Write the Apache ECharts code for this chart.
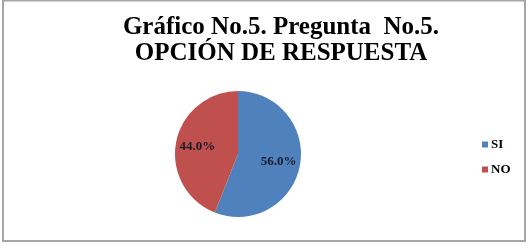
<!DOCTYPE html>
<html>
<head>
<meta charset="utf-8">
<script src="https://cdn.jsdelivr.net/npm/echarts@6/dist/echarts.min.js"></script>
<style>
  html, body { margin: 0; padding: 0; background: #fff; }
  #chart { width: 530px; height: 250px; }
</style>
</head>
<body>
<div id="chart"></div>
<script>
const titleLines = ['Gráfico No.5. Pregunta  No.5.', 'OPCIÓN DE RESPUESTA']
const categories = ['SI', 'NO']
const percents = [56.0, 44.0]
const colors = ['#4f81bd', '#c0504d']

const chart = echarts.init(document.getElementById('chart'))

const serif = '"Liberation Serif", "DejaVu Serif", serif'
const cx = 238, cy = 154

chart.setOption({
  animation: false,
  color: colors,
  title: {
    text: titleLines.join('\n'),
    left: 276,
    top: 10,
    textAlign: 'center',
    textStyle: {
      fontFamily: serif,
      fontWeight: 'bold',
      fontSize: 25,
      lineHeight: 26,
      color: '#000'
    }
  },
  legend: {
    orient: 'vertical',
    left: 477,
    top: 133,
    itemWidth: 6,
    itemHeight: 6,
    itemGap: 12,
    icon: 'rect',
    textStyle: { fontFamily: serif, fontWeight: 'bold', fontSize: 13, color: '#000', padding: [0, 0, 0, -2] },
    data: categories
  },
  graphic: [{
    type: 'rect',
    shape: { x: 3, y: 0.5, width: 522, height: 240.5 },
    style: { fill: 'none', stroke: '#a6a6a6', lineWidth: 2 },
    silent: true
  }],
  series: [{
    type: 'pie',
    center: [cx, cy],
    radius: 63,
    startAngle: 90,
    clockwise: true,
    label: {
      show: true,
      position: 'inside',
      formatter: p => p.value.toFixed(1) + '%',
      fontFamily: serif,
      fontWeight: 'bold',
      fontSize: 13,
      color: '#1a1a2a'
    },
    labelLayout: p => {
      const r = p.labelRect
      const mx = r.x + r.width / 2, my = r.y + r.height / 2
      const nx = cx + (mx - cx) * 1.2, ny = cy + (my - cy) * 1.2
      return { x: nx, y: ny, align: 'center', verticalAlign: 'middle' }
    },
    labelLine: { show: false },
    itemStyle: { borderWidth: 0 },
    emphasis: { disabled: true },
    data: categories.map((c, i) => ({ name: c, value: percents[i] }))
  }]
})
</script>
</body>
</html>
